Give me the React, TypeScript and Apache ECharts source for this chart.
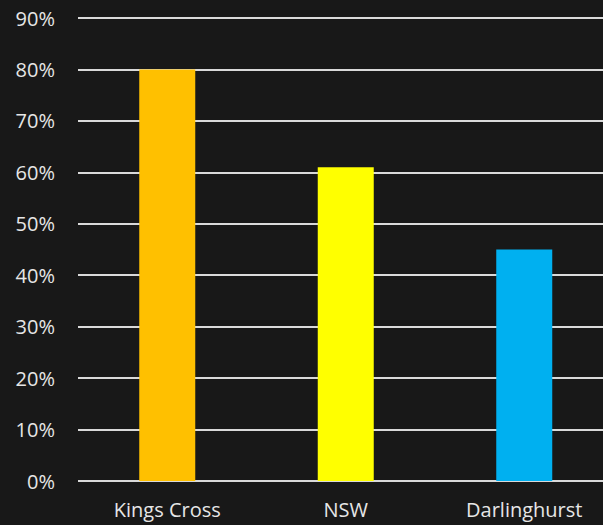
import React, { useEffect, useRef } from "react";
import * as echarts from "echarts";

const categories = ["Kings Cross", "NSW", "Darlinghurst"];
const values = [80, 61, 45];
const barColors = ["#FFC000", "#FFFF00", "#00B0F0"];
const yTicks = { min: 0, max: 90, interval: 10 };

export default function App() {
  const ref = useRef<HTMLDivElement>(null);
  useEffect(() => {
    if (!ref.current) return;
    const chart = echarts.init(ref.current, null, { renderer: "svg" });
    chart.setOption({
      animation: false,
      backgroundColor: "#181818",
      grid: { left: 78, right: 6.5, top: 18, bottom: 44, containLabel: false },
      xAxis: {
        type: "category",
        data: categories,
        axisLine: { show: false },
        axisTick: { show: false },
        axisLabel: {
          color: "#e6e6e6",
          fontFamily: "Open Sans",
          fontSize: 20,
          margin: 18,
        },
      },
      yAxis: {
        type: "value",
        min: yTicks.min,
        max: yTicks.max,
        interval: yTicks.interval,
        axisLine: { show: false },
        axisTick: { show: false },
        axisLabel: {
          formatter: "{value}%",
          color: "#e6e6e6",
          fontFamily: "Open Sans",
          fontSize: 20,
          margin: 23,
        },
        splitLine: { lineStyle: { color: "#d9d9d9", width: 2 } },
      },
      series: [
        {
          type: "bar",
          barWidth: 56,
          data: values.map((v, i) => ({ value: v, itemStyle: { color: barColors[i] } })),
        },
      ],
    });
    return () => chart.dispose();
  }, []);
  return (
    <div
      style={{
        position: "absolute",
        left: 0,
        top: 0,
        width: 603,
        height: 525,
        overflow: "hidden",
        background: "#181818",
      }}
    >
      <div ref={ref} style={{ width: 620, height: 525 }} />
    </div>
  );
}
